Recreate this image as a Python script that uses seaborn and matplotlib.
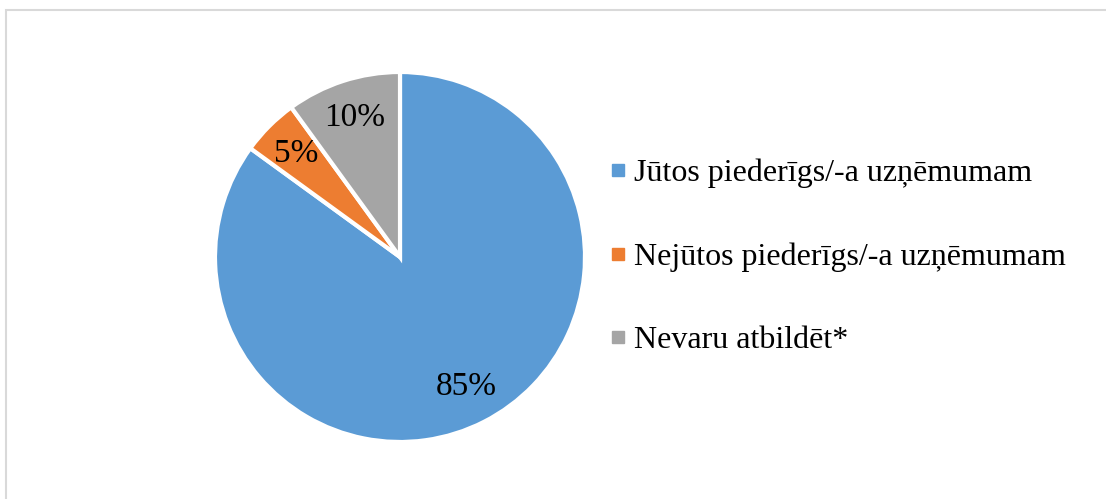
import matplotlib
matplotlib.use("Agg")
import matplotlib.pyplot as plt
from matplotlib.lines import Line2D
from matplotlib.patches import Rectangle
import seaborn as sns

categories = ["Jūtos piederīgs/-a uzņēmumam", "Nejūtos piederīgs/-a uzņēmumam", "Nevaru atbildēt*"]
values = [85, 5, 10]
colors = ["#5B9BD5", "#ED7D31", "#A5A5A5"]

sns.set_theme(style="white")
plt.rcParams['font.family'] = ['Liberation Serif', 'DejaVu Serif']

W, H = 1106, 499
fig = plt.figure(figsize=(W / 100, H / 100), dpi=100)
fig.patch.set_facecolor("white")

# chart border
fig.add_artist(Rectangle((6 / W, -0.05), 1.1, 1 - 10 / H + 0.05, transform=fig.transFigure,
                         fill=False, edgecolor="#D9D9D9", linewidth=1.5))

cx, cy, r = 400, 257, 185
ax = fig.add_axes([(cx - r) / W, (H - cy - r) / H, 2 * r / W, 2 * r / H])
wedges, texts, autotexts = ax.pie(values, colors=colors, startangle=90, counterclock=False,
                                  autopct="%d%%", pctdistance=0.79, radius=1,
                                  wedgeprops=dict(edgecolor="white", linewidth=3),
                                  textprops=dict(fontsize=24, color="black"))
ax.set_xlim(-1, 1)
ax.set_ylim(-1, 1)
ax.set_aspect("equal")
ax.axis("off")

handles = [Line2D([0], [0], marker="s", linestyle="none", markersize=8,
                  markerfacecolor=c, markeredgecolor=c) for c in colors]
leg = fig.legend(handles, categories, loc="center left", bbox_to_anchor=(608 / W, (H - 257) / H),
                 frameon=False, fontsize=23, labelspacing=1.7, handletextpad=0.2, handlelength=0.6,
                 borderpad=0, borderaxespad=0)
for t in leg.get_texts():
    t.set_color("black")

fig.savefig("out.png", dpi=100, facecolor="white")
